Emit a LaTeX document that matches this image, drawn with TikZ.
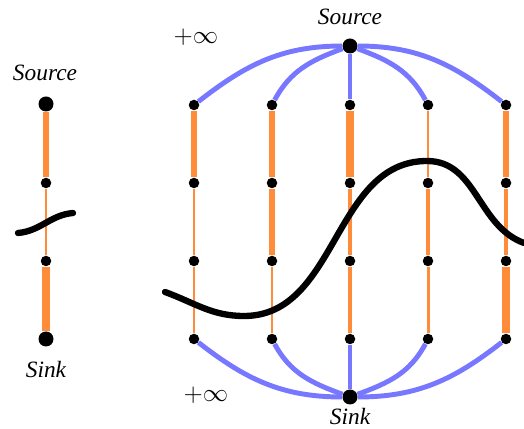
\documentclass[tikz,border=0pt]{standalone}
\usepackage{fontspec}
\setmainfont{Liberation Serif}
\usepackage{xcolor}
\definecolor{flowOrange}{HTML}{FF8C3A}
\definecolor{infBlue}{HTML}{7777FF}
\definecolor{cutBlack}{HTML}{000000}
\usepackage{tikz}
\usetikzlibrary{
    positioning,
    calc
}
\tikzset{
    % Graph vertices
    dot/.style={
        circle,
        fill=black,
        inner sep=0pt,
        minimum size=0.21cm,
    },
    % Source and sink vertices
    terminal/.style={
        dot,
        minimum size=0.3cm,
    },
    % Orange capacity edge, width = capacity
    flow/.style={
        draw=flowOrange,
        line width=#1,
    },
    % Infinite capacity edges
    infinite/.style={
        draw=infBlue,
        line width=2.8pt,
    },
    % The cut
    cut/.style={
        draw=cutBlack,
        line width=3.6pt,
        line cap=round,
    },
    % Text labels
    term label/.style={
        font=\fontsize{13.3}{16}\selectfont\itshape,
        inner sep=1pt,
    },
    inf label/.style={
        font=\fontsize{13.3}{16}\selectfont,
        inner sep=1pt,
    },
}

\begin{document}
\begin{tikzpicture}[node distance=1.56cm]
    \useasboundingbox (0,0) rectangle (10.48,8.58);

    % single column
    \node (l_src) [terminal] at (0.92,6.50) {};
    \node (l_r2) [dot, below of=l_src, node distance=1.58cm] {};
    \node (l_r3) [dot, below of=l_r2] {};
    \node (l_snk) [terminal, below of=l_r3] {};
    \node (l_src_text) [term label] at (0.90,7.12) {Source};
    \node (l_snk_text) [term label] at (0.92,1.18) {Sink};

    \draw [flow=2.9pt] (l_src) -- (l_r2);
    \draw [flow=0.9pt] (l_r2) -- (l_r3);
    \draw [flow=4.1pt] (l_r3) -- (l_snk);

    % grid
    \node (c1r1) [dot] at (3.88,6.48) {};
    \node (c2r1) [dot, right of=c1r1] {};
    \node (c3r1) [dot, right of=c2r1] {};
    \node (c4r1) [dot, right of=c3r1] {};
    \node (c5r1) [dot, right of=c4r1] {};
    \node (c1r2) [dot, below of=c1r1] {};
    \node (c2r2) [dot, right of=c1r2] {};
    \node (c3r2) [dot, right of=c2r2] {};
    \node (c4r2) [dot, right of=c3r2] {};
    \node (c5r2) [dot, right of=c4r2] {};
    \node (c1r3) [dot, below of=c1r2] {};
    \node (c2r3) [dot, right of=c1r3] {};
    \node (c3r3) [dot, right of=c2r3] {};
    \node (c4r3) [dot, right of=c3r3] {};
    \node (c5r3) [dot, right of=c4r3] {};
    \node (c1r4) [dot, below of=c1r3] {};
    \node (c2r4) [dot, right of=c1r4] {};
    \node (c3r4) [dot, right of=c2r4] {};
    \node (c4r4) [dot, right of=c3r4] {};
    \node (c5r4) [dot, right of=c4r4] {};

    \node (src) [terminal, above of=c3r1, node distance=1.18cm] {};
    \node (snk) [terminal, below of=c3r4, node distance=1.16cm] {};
    \node (src_text) [term label] at (7.0,8.24) {Source};
    \node (snk_text) [term label] at (7.0,0.24) {Sink};
    \node (src_inf) [inf label] at (3.92,7.84) {$+\infty$};
    \node (snk_inf) [inf label] at (4.12,0.68) {$+\infty$};

    \draw [flow=2.9pt] (c1r1) -- (c1r2);
    \draw [flow=1.3pt] (c1r2) -- (c1r3);
    \draw [flow=0.75pt] (c1r3) -- (c1r4);
    \draw [flow=3.1pt] (c2r1) -- (c2r2);
    \draw [flow=3.7pt] (c2r2) -- (c2r3);
    \draw [flow=1.1pt] (c2r3) -- (c2r4);
    \draw [flow=4pt] (c3r1) -- (c3r2);
    \draw [flow=2pt] (c3r2) -- (c3r3);
    \draw [flow=2.55pt] (c3r3) -- (c3r4);
    \draw [flow=0.6pt] (c4r1) -- (c4r2);
    \draw [flow=2.6pt] (c4r2) -- (c4r3);
    \draw [flow=1.7pt] (c4r3) -- (c4r4);
    \draw [flow=2.9pt] (c5r1) -- (c5r2);
    \draw [flow=2pt] (c5r2) -- (c5r3);
    \draw [flow=4pt] (c5r3) -- (c5r4);

    \draw [infinite] (src) to[out=180, in=38] (c1r1);
    \draw [infinite] (src) to[out=200, in=62] (c2r1);
    \draw [infinite] (src) -- (c3r1);
    \draw [infinite] (src) to[out=-20, in=118] (c4r1);
    \draw [infinite] (src) to[out=0, in=142] (c5r1);
    \draw [infinite] (c1r4) to[out=-38, in=180] (snk);
    \draw [infinite] (c2r4) to[out=-62, in=160] (snk);
    \draw [infinite] (c3r4) -- (snk);
    \draw [infinite] (c4r4) to[out=242, in=20] (snk);
    \draw [infinite] (c5r4) to[out=218, in=0] (snk);

    % cuts
    \draw [cut] (0.36,3.92) to[out=5, in=185] (1.46,4.32);
    \draw [cut] (3.30,2.74) to[out=-20, in=180] (4.88,2.26)
        to[out=0, in=180] (8.54,5.36) to[out=0, in=160] (10.48,3.72);
\end{tikzpicture}
\end{document}
